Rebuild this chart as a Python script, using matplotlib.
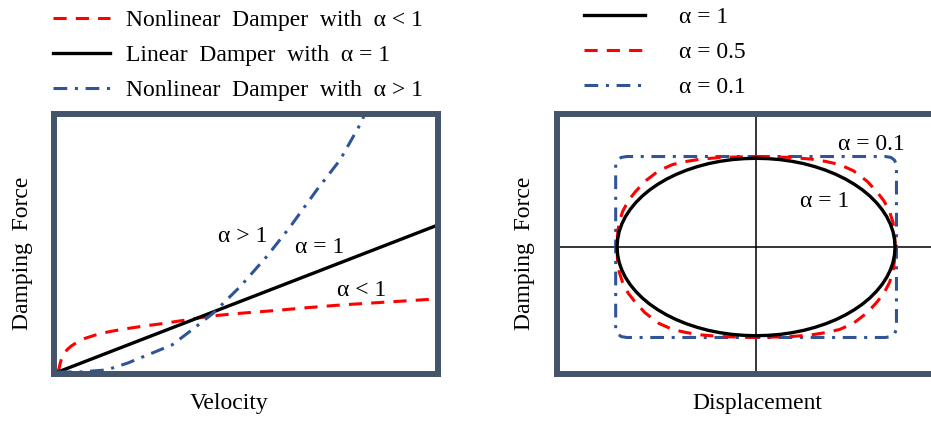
import matplotlib
matplotlib.use('Agg')
import matplotlib.pyplot as plt

plt.rcParams['font.family'] = ['Liberation Serif', 'DejaVu Serif']
plt.rcParams['font.size'] = 17

RED = '#ff0000'
BLUE = '#2f5597'
FRAME = '#44546a'

# Left panel: damping force vs velocity
vel_lin = [0.0, 10.0]
force_lin = [0.0, 5.71]

vel_low = [0.0, 0.03, 0.06, 0.10, 0.16, 0.25, 0.36, 0.50, 0.70, 0.95, 1.30, 1.70, 2.20, 2.80,
           3.50, 4.00, 4.80, 5.66, 6.50, 7.42, 8.70, 10.0]
force_low = [0.0, 0.15, 0.35, 0.55, 0.72, 0.88, 1.02, 1.15, 1.30, 1.42, 1.55, 1.66, 1.77, 1.89,
             2.05, 2.17, 2.28, 2.38, 2.49, 2.60, 2.72, 2.84]

vel_high = [0.0, 0.58, 1.28, 1.84, 2.42, 3.0, 3.52, 4.08, 4.79, 5.49, 6.11, 6.81, 7.42, 7.99, 8.05]
force_high = [0.0, 0.0, 0.08, 0.35, 0.70, 1.05, 1.63, 2.28, 3.31, 4.48, 5.64, 7.07, 8.23, 9.72, 9.95]

# Right panel: hysteresis loops, force vs displacement
disp_a1 = [0, .087, .174, .259, .342, .423, .5, .574, .643, .707, .766, .819, .866, .906, .94, .966, .985, .996, 1,
           .996, .985, .966, .94, .906, .866, .819, .766, .707, .643, .574, .5, .423, .342, .259, .174, .087, 0,
           -.087, -.174, -.259, -.342, -.423, -.5, -.574, -.643, -.707, -.766, -.819, -.866, -.906, -.94, -.966, -.985, -.996, -1,
           -.996, -.985, -.966, -.94, -.906, -.866, -.819, -.766, -.707, -.643, -.574, -.5, -.423, -.342, -.259, -.174, -.087, 0]
force_a1 = [1, .996, .985, .966, .94, .906, .866, .819, .766, .707, .643, .574, .5, .423, .342, .259, .174, .087, 0,
            -.087, -.174, -.259, -.342, -.423, -.5, -.574, -.643, -.707, -.766, -.819, -.866, -.906, -.94, -.966, -.985, -.996, -1,
            -.996, -.985, -.966, -.94, -.906, -.866, -.819, -.766, -.707, -.643, -.574, -.5, -.423, -.342, -.259, -.174, -.087, 0,
            .087, .174, .259, .342, .423, .5, .574, .643, .707, .766, .819, .866, .906, .94, .966, .985, .996, 1]

disp_a05 = [0, .25, .4, .5, .6, .7, .8, .87, .92, .96, .985, .997, 1.0,
            .997, .985, .96, .92, .87, .8, .7, .6, .5, .4, .25, 0,
            -.25, -.4, -.5, -.6, -.7, -.8, -.87, -.92, -.96, -.985, -.997, -1.0,
            -.997, -.985, -.96, -.92, -.87, -.8, -.7, -.6, -.5, -.4, -.25, 0]
force_a05 = [1.02, 1.01, .99, .965, .93, .86, .74, .62, .52, .40, .28, .14, 0,
             -.14, -.28, -.40, -.52, -.62, -.74, -.86, -.93, -.965, -.99, -1.01, -1.02,
             -1.01, -.99, -.965, -.93, -.86, -.74, -.62, -.52, -.40, -.28, -.14, 0,
             .14, .28, .40, .52, .62, .74, .86, .93, .965, .99, 1.01, 1.02]

disp_a01 = [0, .93, .97, .995, 1.01, 1.01, 1.01, .995, .97, .93, 0,
            -.93, -.97, -.995, -1.01, -1.01, -1.01, -.995, -.97, -.93, 0]
force_a01 = [1.02, 1.02, 1.01, .98, .93, 0, -.93, -.98, -1.01, -1.02, -1.02,
             -1.02, -1.01, -.98, -.93, 0, .93, .98, 1.01, 1.02, 1.02]

fig = plt.figure(figsize=(9.31, 4.21), dpi=100)
ax1 = fig.add_axes([0.058, 0.1105, 0.4125, 0.6176])
ax2 = fig.add_axes([0.598, 0.1105, 0.430, 0.6176])

dash = (4.3, 3)
dashdot = (4.5, 2.5, 1, 2.5)

l_low, = ax1.plot(vel_low, force_low, color=RED, lw=2.2, dashes=dash, label='Nonlinear  Damper  with  α < 1')
l_lin, = ax1.plot(vel_lin, force_lin, color='black', lw=2.4, label='Linear  Damper  with  α = 1')
l_high, = ax1.plot(vel_high, force_high, color=BLUE, lw=2.2, dashes=dashdot, label='Nonlinear  Damper  with  α > 1')
ax1.set_xlim(-0.105, 10.0)
ax1.set_ylim(-0.097, 10.0)
ax1.text(4.87, 5.25, 'α > 1', ha='center', va='center')
ax1.text(6.89, 4.82, 'α = 1', ha='center', va='center')
ax1.text(7.99, 3.18, 'α < 1', ha='center', va='center')

ax2.axhline(0, color='black', lw=1.1, zorder=1)
ax2.axvline(0, color='black', lw=1.1, zorder=1)
r_01, = ax2.plot(disp_a01, force_a01, color=BLUE, lw=2.2, dashes=dashdot, label='α = 0.1')
r_05, = ax2.plot(disp_a05, force_a05, color=RED, lw=2.2, dashes=dash, label='α = 0.5')
r_1, = ax2.plot(disp_a1, force_a1, color='black', lw=2.4, label='α = 1')
ax2.set_xlim(-1.434, 1.446)
ax2.set_ylim(-1.437, 1.494)
ax2.text(0.83, 1.15, 'α = 0.1', ha='center', va='center')
ax2.text(0.49, 0.51, 'α = 1', ha='center', va='center')

for ax, xl, xc in [(ax1, 'Velocity', 0.456), (ax2, 'Displacement', 0.5)]:
    ax.set_xticks([])
    ax.set_yticks([])
    for sp in ax.spines.values():
        sp.set_color(FRAME)
        sp.set_linewidth(4.3)
        sp.set_capstyle('projecting')
    ax.set_xlabel(xl)
    ax.xaxis.set_label_coords(xc, -0.1327)
    ax.xaxis.label.set_va('baseline')
    ax.set_ylabel('Damping  Force')

ax1.yaxis.set_label_coords(-0.0547, 0.467)
ax2.yaxis.set_label_coords(-0.054, 0.467)

fig.legend([l_low, l_lin, l_high], [l.get_label() for l in [l_low, l_lin, l_high]],
           loc='upper left', bbox_to_anchor=(53 / 931, 0.977), frameon=False, borderpad=0,
           borderaxespad=0, handlelength=2.42, handletextpad=0.68, labelspacing=0.57)
fig.legend([r_1, r_05, r_01], ['α = 1', 'α = 0.5', 'α = 0.1'],
           loc='upper left', bbox_to_anchor=(584 / 931, 0.984), frameon=False, borderpad=0,
           borderaxespad=0, handlelength=2.58, handletextpad=1.44, labelspacing=0.57)

fig.savefig('out.png', dpi=100)
